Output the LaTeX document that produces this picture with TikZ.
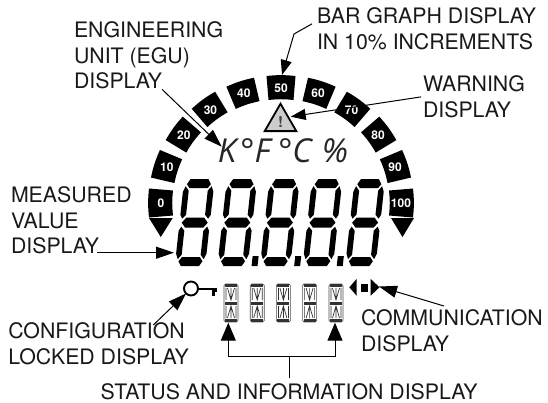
\documentclass[tikz,border=0pt]{standalone}
\usepackage{fontspec}
\setmainfont{TeX Gyre Heros}
\newfontfamily\unitfont{Open Sans}
\usetikzlibrary{shapes,arrows.meta,positioning,calc}

\tikzset{
    callout/.style={inner sep=0pt, outer sep=0pt, anchor=north west, align=left, font=\fontsize{21.3}{25.5}\selectfont, text=black!90},
    leader/.style={draw=black, line width=1pt, -{Triangle[length=18pt,width=12pt]}},
    barnum/.style={inner sep=0pt, text=white, font=\fontsize{12}{12}\selectfont\bfseries},
    bigdigit/.pic={
        \begin{scope}[xslant=0.11]
            \fill (-9,-5) -- (9,-5) -- (13,0) -- (9,5) -- (-9,5) -- (-13,0) -- cycle;
            \foreach \sy in {-1,1} {
                \fill[yscale=\sy] (-9,43.5) -- (9,43.5) -- (12,38.5) -- (9,34.5) -- (-9,34.5) -- (-12,38.5) -- cycle;
                \foreach \sx in {-1,1} {
                    \fill[xscale=\sx, yscale=\sy] (15.2,31) -- (13,36.5) -- (9.5,32) -- (9.5,8) -- (13,4) -- (15.2,8) -- cycle;
                }
            }
        \end{scope}
    },
    smalldigit/.pic={
        \draw[black!70, line width=0.6pt, rounded corners=1.5pt] (-7,-19) rectangle (7,19);
        \fill[black!80] (-6,-19) rectangle (6,-16);
        \fill[black!80] (-6,-1.5) rectangle (6,1.5);
        \fill[black!80] (-6,16) rectangle (6,19);
        \foreach \sy in {-1,1} {
            \draw[black!80, line width=0.7pt, yscale=\sy] (-5,3) -- (-5,15) (5,3) -- (5,15) (0,3) -- (0,15) (-3.5,15) -- (0,3) -- (3.5,15);
        }
    }
}

\begin{document}
\begin{tikzpicture}[x=1pt,y=-1pt]
    \useasboundingbox (0,0) rectangle (548,402);

    \foreach \val [count=\i from 0] in {0,10,20,30,40,50,60,70,80,90,100} {
        \pgfmathsetmacro\barx{281-120*cos(18*\i)}
        \pgfmathsetmacro\bary{203-115*sin(18*\i)}
        \pgfmathsetmacro\barrot{90-18*\i}
        \fill[shift={(\barx,\bary)}, rotate=\barrot] (-14.5,-12) to[bend left=6] (14.5,-12) -- (12.5,12) to[bend right=6] (-12.5,12) -- cycle;
        \node[barnum] (bar\val) at (\barx,\bary) {\val};
    }

    \fill (149,218) -- (172.7,218) -- (160.8,237) -- cycle;
    \fill (391,218) -- (414,218) -- (402.5,237) -- cycle;

    \node[regular polygon, regular polygon sides=3, draw=black, line width=1.8pt, fill=black!20, minimum size=36.5pt, inner sep=0pt, outer sep=0pt, font=\fontsize{15}{15}\selectfont\bfseries, text=black!75] (warnsign) at (280.5,122) {!};
    \node[inner sep=0pt, text=black!85, font=\unitfont\itshape\fontsize{33}{33}\selectfont] (units) at (283,151) {K\kern4pt°F\kern8pt°C\kern10pt\%};

    \foreach \x in {194.7,237.3,279.9,322.5,365.1} {
        \path (\x,222.7) pic {bigdigit};
    }
    \foreach \x in {237.3,279.9,322.5} {
        \fill[shift={(\x,222.7)}, xslant=0.11] (19,33.5) -- (25,33.5) -- (25,43.5) -- (19,43.5) -- cycle;
    }

    \foreach \x in {231,257.2,283.4,309.6,336} {
        \path (\x,303) pic {smalldigit};
    }

    \node[circle, draw=black, line width=1.9pt, minimum size=14pt, inner sep=0pt, outer sep=0pt] (keyring) at (191,288.5) {};
    \draw[line width=2pt] (keyring.east) -- (216.5,288.5);
    \fill (211.5,288.5) rectangle (214.5,295.5);
    \fill (215,288.5) rectangle (217,291.5);

    \fill (349.3,287.3) -- (356.7,278.8) -- (356.7,295.8) -- cycle;
    \fill (361,284) rectangle (367.7,291.5);
    \fill (379.5,287.3) -- (370.5,278.8) -- (370.5,295.8) -- cycle;

    \node[callout] (egu) at (74,22) {ENGINEERING\\UNIT (EGU)\\DISPLAY};
    \node[callout] (bargraph) at (317,8) {BAR GRAPH DISPLAY\\IN 10\% INCREMENTS};
    \node[callout] (warning) at (423,76) {WARNING\\DISPLAY};
    \node[callout] (measured) at (11,187) {MEASURED\\VALUE\\DISPLAY};
    \node[callout] (config) at (8.3,323) {CONFIGURATION\\LOCKED DISPLAY};
    \node[callout] (comm) at (361,310) {COMMUNICATION\\DISPLAY};
    \node[callout, align=none] (status) at (100.7,384) {STATUS AND INFORMATION DISPLAY};

    \coordinate (egutip) at (221.7,146.7);
    \coordinate (bartip) at (282,75);
    \coordinate (warntip) at (290.7,116.7);
    \coordinate (valuestart) at (97,252.7);
    \coordinate (valuetip) at (174,252.7);
    \coordinate (commtip) at (379,286.5);
    \coordinate (statusfork) at (289,356);
    \coordinate (statusleft) at (228.3,322.7);
    \coordinate (statusright) at (335,322.7);

    \draw[leader] ($(egu.south west)+(88,0)$) -- (egutip);
    \draw[leader, -{Triangle[length=15pt,width=11pt]}] ($(bargraph.south west)+(-5,-26)$) -- (294,34) -- (bartip);
    \draw[leader, -{Triangle[length=15pt,width=11pt]}] ($(warning.west)+(-2,0)$) -- (warntip);
    \draw[leader] (valuestart) -- (valuetip);
    \draw[leader] ($(config.north west)+(145,2)$) -- (keyring.south west);
    \draw[leader] ($(comm.north west)+(83,-4)$) -- (commtip);
    \draw[draw=black, line width=1pt] ($(status.north west)+(188.3,-6)$) -- (statusfork);
    \draw[leader, -{Triangle[length=18pt,width=15pt]}] (statusfork) -| (statusleft);
    \draw[leader, -{Triangle[length=18pt,width=15pt]}] (statusfork) -| (statusright);
\end{tikzpicture}
\end{document}
